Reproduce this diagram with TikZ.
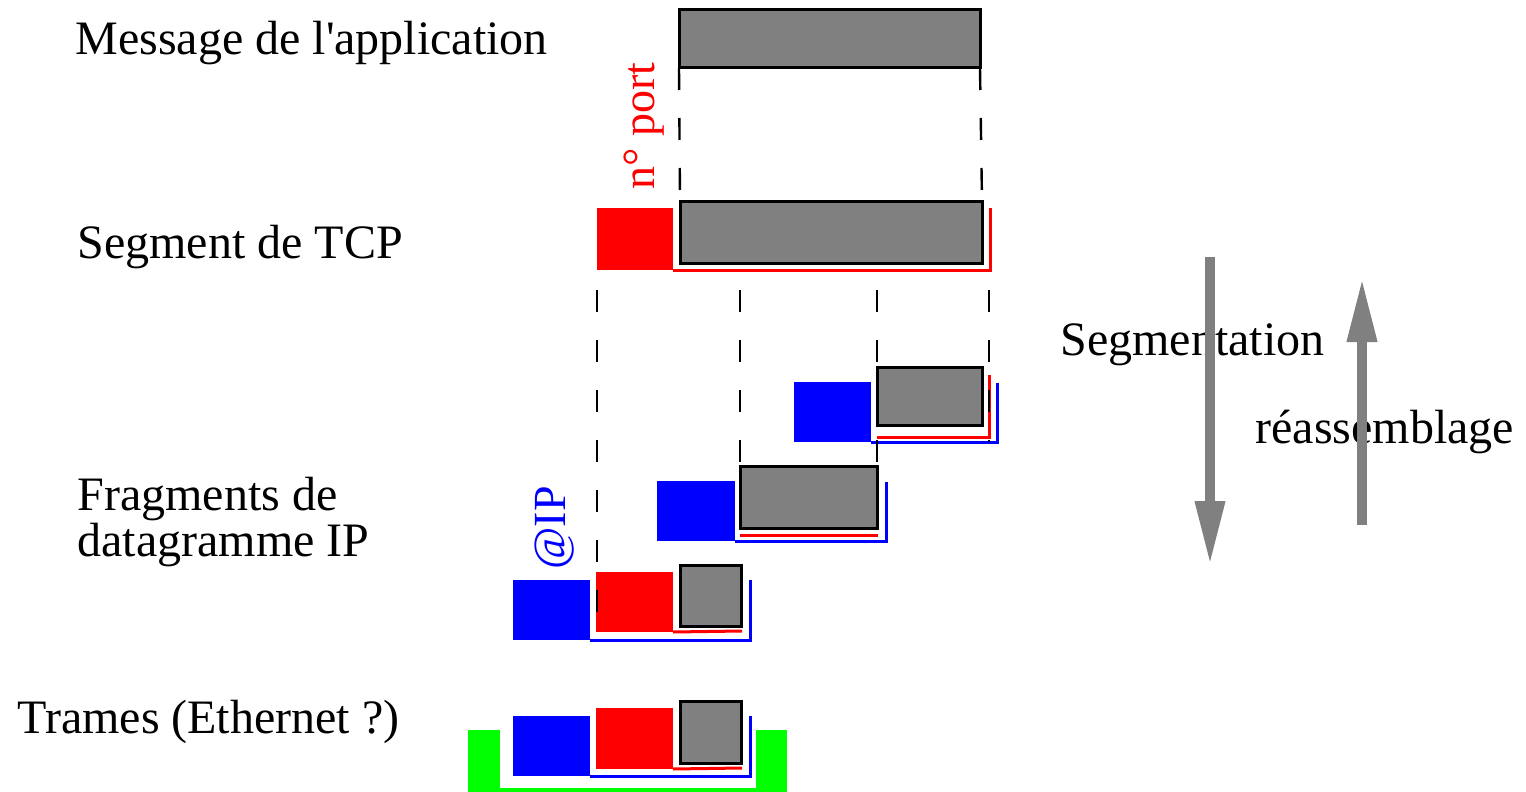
\documentclass[tikz,border=0pt]{standalone}
\usepackage{fontspec}
\setmainfont{Liberation Serif}
\usetikzlibrary{arrows.meta}

\tikzset{
	pdu/.style n args={2}{inner sep=0pt, outer sep=0pt, anchor=north west,
		minimum width=#1*0.5pt, minimum height=#2*0.5pt},
	appdata/.style={draw=black, line width=1.5pt, fill=gray},
	tcphdr/.style={fill=red},
	iphdr/.style={fill=blue},
	ethhdr/.style={fill=green},
	tcpline/.style={draw=red, line width=1.5pt},
	ipline/.style={draw=blue, line width=1.5pt},
	ethline/.style={draw=green, line width=2pt},
	cut/.style={draw=black, line width=1.2pt, dash pattern=on 11pt off 14pt},
	layer/.style={anchor=base west, inner sep=0pt, font=\fontsize{24}{28}\selectfont},
	field/.style={anchor=base west, inner sep=0pt, rotate=90, font=\fontsize{23}{27}\selectfont},
	flow/.style={draw=gray, line width=5pt, -{Triangle[length=32pt,width=14pt]}}
}

\begin{document}
\begin{tikzpicture}[x=0.5pt, y=-0.5pt]
	\useasboundingbox (0,0) rectangle (1526,792);

	%% APPLICATION MESSAGE
	\node[appdata, pdu={301}{58}](msg) at (679,10){};

	%% TCP SEGMENT
	\node[tcphdr, pdu={76}{62}](tcp_hdr) at (597,208){};
	\node[appdata, pdu={302}{62}](tcp_data) at (680,201){};
	\coordinate (tcp_end) at (990,208);
	\draw[tcpline] (tcp_hdr.south east) -| (tcp_end);

	%% IP FRAGMENTS
	% fragment 1
	\node[iphdr, pdu={77}{60}](ip_hdr1) at (794,382){};
	\node[appdata, pdu={105}{58}](data1) at (877,367){};
	\coordinate (f1_tcp_start) at (877,437);
	\coordinate (f1_tcp_end) at (989,375);
	\coordinate (f1_ip_end) at (997,383);
	\draw[tcpline] (f1_tcp_start) -| (f1_tcp_end);
	\draw[ipline] (ip_hdr1.south east) -| (f1_ip_end);

	% fragment 2
	\node[iphdr, pdu={78}{60}](ip_hdr2) at (657,481){};
	\node[appdata, pdu={137}{62}](data2) at (740,466){};
	\coordinate (f2_tcp_start) at (740,535);
	\coordinate (f2_tcp_end) at (878,535);
	\coordinate (f2_ip_end) at (886,482);
	\draw[tcpline] (f2_tcp_start) -- (f2_tcp_end);
	\draw[ipline] (ip_hdr2.south east) -| (f2_ip_end);

	% fragment 3
	\node[iphdr, pdu={77}{60}](ip_hdr3) at (513,580){};
	\node[tcphdr, pdu={77}{60}](tcp_hdr3) at (596,572){};
	\node[appdata, pdu={61}{61}](data3) at (680,565){};
	\coordinate (f3_tcp_end) at (742,631);
	\coordinate (f3_ip_end) at (750,580);
	\draw[tcpline] (tcp_hdr3.south east) -- (f3_tcp_end);
	\draw[ipline] (ip_hdr3.south east) -| (f3_ip_end);

	%% ETHERNET FRAME
	\node[ethhdr, pdu={32}{62}](eth_hdr) at (468,730){};
	\node[ethhdr, pdu={31}{62}](eth_trl) at (756,730){};
	\draw[ethline] ([yshift=1pt]eth_hdr.south east) -- ([yshift=1pt]eth_trl.south west);
	\node[iphdr, pdu={77}{60}](ip_hdr4) at (513,716){};
	\node[tcphdr, pdu={77}{61}](tcp_hdr4) at (596,708){};
	\node[appdata, pdu={61}{62}](data4) at (680,701){};
	\coordinate (f4_tcp_end) at (742,768);
	\coordinate (f4_ip_end) at (750,716);
	\draw[tcpline] (tcp_hdr4.south east) -- (f4_tcp_end);
	\draw[ipline] (ip_hdr4.south east) -| (f4_ip_end);

	%% CUTS
	\draw[cut] (msg.south west) -- (tcp_data.north west);
	\draw[cut] (msg.south east) -- (tcp_data.north east);
	\coordinate (cut_a) at (597,290);
	\coordinate (cut_b) at (740,290);
	\coordinate (cut_c) at (877,290);
	\coordinate (cut_d) at (989,290);
	\draw[cut] (cut_a) -- (cut_a |- ip_hdr3.south);
	\draw[cut] (cut_b) -- (cut_b |- data2.north);
	\draw[cut] (cut_c) -- (cut_c |- data2.north);
	\draw[cut] (cut_d) -- (cut_d |- ip_hdr1.south);

	%% LABELS
	\node[layer](lbl_app) at (75,55){Message de l\textquotesingle application};
	\node[layer](lbl_tcp) at (77,258){Segment de TCP};
	\node[layer](lbl_ip1) at (77,510){Fragments de};
	\node[layer](lbl_ip2) at (77,556){datagramme IP};
	\node[layer](lbl_eth) at (17,733){Trames (Ethernet ?)};
	\node[field, text=red](lbl_port) at (654,190){n° port};
	\node[field, text=blue](lbl_ip) at (565,570){@IP};
	\node[layer](lbl_seg) at (1060,355){Segmentation};
	\node[layer](lbl_reass) at (1255,443){réassemblage};

	%% DIRECTION ARROWS
	\coordinate (seg_from) at (1210,257);
	\coordinate (seg_to) at (1210,565);
	\coordinate (reass_from) at (1362,525);
	\coordinate (reass_to) at (1362,278);
	\draw[flow] (seg_from) -- (seg_to);
	\draw[flow] (reass_from) -- (reass_to);

\end{tikzpicture}
\end{document}
